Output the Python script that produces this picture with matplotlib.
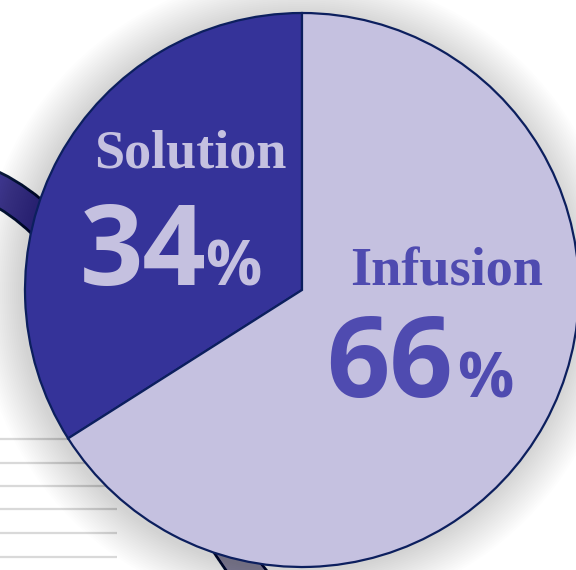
import matplotlib
matplotlib.use('Agg')
import matplotlib.pyplot as plt
from matplotlib.patches import Circle, PathPatch, Rectangle
from matplotlib.path import Path
import matplotlib.patheffects as pe

# data
labels = ['Solution', 'Infusion']
shares = [34, 66]
slice_colors = ['#353399', '#C5C1E0']
label_colors = ['#C5C1E0', '#4F4BB0']

# decorative lines at the bottom left (image px)
rule_y = [439, 463, 486, 509, 533, 557]

W, H = 576, 570
fig = plt.figure(figsize=(W / 100, H / 100), dpi=100)
ax = fig.add_axes([0, 0, 1, 1])

cx, cy, r = 302, 290, 277

# faint grey rules
for y in rule_y:
    ax.plot([0, 117], [y, y], color='#D9D9D9', lw=1.6, zorder=1, solid_capstyle='butt')

# ribbon passing behind the pie
verts = [(-20, 181), (130, 241), (160, 490), (272, 600)]
ribbon = Path(verts, [Path.MOVETO, Path.CURVE4, Path.CURVE4, Path.CURVE4])
rib = PathPatch(ribbon, fill=False, edgecolor='#3E378F', lw=21, zorder=2, capstyle='butt',
                path_effects=[pe.Stroke(linewidth=25, foreground='#0B1A3A'), pe.Normal()])
ax.add_patch(rib)
rib2 = PathPatch(ribbon, fill=False, edgecolor='#8E88AD', lw=21, zorder=2.1, capstyle='butt')
ax.add_patch(rib2)
rib2.set_clip_path(Rectangle((150, 500), 300, 100, transform=ax.transData))

# soft shadow
n = 22
for k in range(n):
    ax.add_patch(Circle((cx - 3, cy + 3), r + 2 + k * 2, color='black', alpha=0.008,
                        lw=0, zorder=3))

# pie (y axis is inverted, so go clockwise in data space)
wedges, _ = ax.pie(shares, colors=slice_colors, center=(cx, cy), radius=r,
                   startangle=-90, counterclock=False,
                   wedgeprops=dict(edgecolor='#0C1F5E', linewidth=1.6))
for w in wedges:
    w.set_zorder(4)

ax.set_xlim(0, W)
ax.set_ylim(H, 0)
ax.set_aspect('equal')
ax.axis('off')

serif = ['Liberation Serif', 'DejaVu Serif']
sans = ['Open Sans', 'DejaVu Sans']

# labels
ax.text(190, 168, labels[0], color=label_colors[0], fontsize=39, fontweight='bold',
        family=serif, ha='center', va='baseline', zorder=5)
ax.text(143, 285, f'{shares[0]}', color=label_colors[0], fontsize=80, fontweight='bold',
        family=sans, ha='center', va='baseline', zorder=5)
ax.text(233, 285, '%', color=label_colors[0], fontsize=45, fontweight='bold',
        family=sans, ha='center', va='baseline', zorder=5)

ax.text(447, 285, labels[1], color=label_colors[1], fontsize=39, fontweight='bold',
        family=serif, ha='center', va='baseline', zorder=5)
ax.text(390, 397, f'{shares[1]}', color=label_colors[1], fontsize=80, fontweight='bold',
        family=sans, ha='center', va='baseline', zorder=5)
ax.text(485, 397, '%', color=label_colors[1], fontsize=45, fontweight='bold',
        family=sans, ha='center', va='baseline', zorder=5)

fig.savefig('out.png', dpi=100, facecolor='white')
